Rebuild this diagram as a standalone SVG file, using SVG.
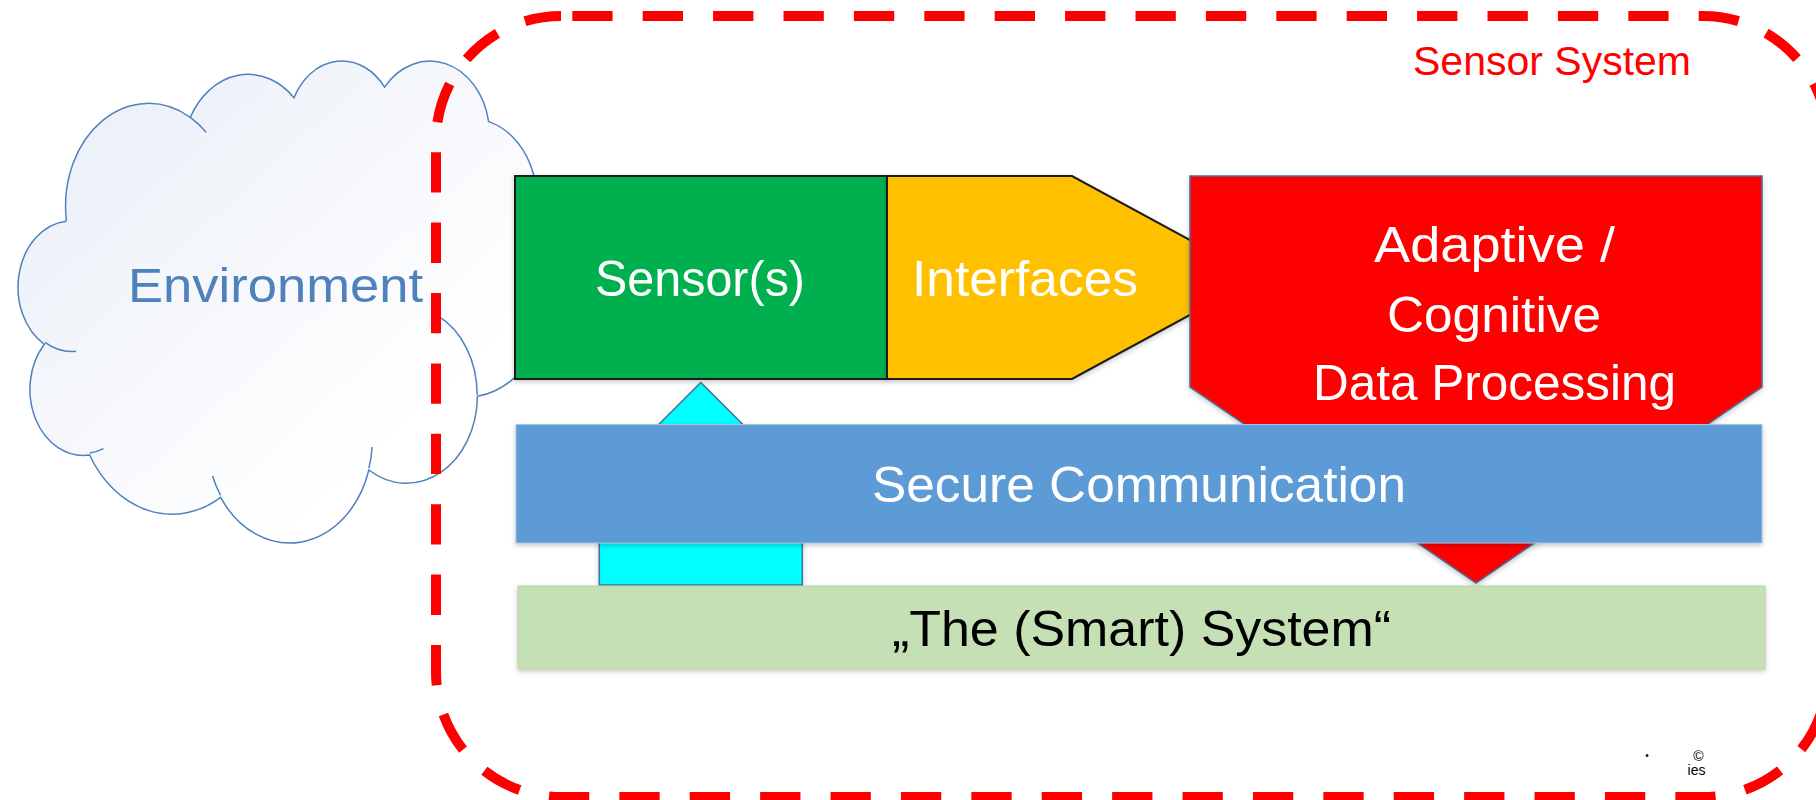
<svg xmlns="http://www.w3.org/2000/svg" width="1816" height="800" viewBox="0 0 1816 800">
  <style>
    .lbl { font-family: "Liberation Sans", Arial, sans-serif; }
    .white { fill: #FFFFFF; font-size: 50px; }
    .dark { stroke: #1A1A1A; stroke-width: 2; }
    .blueline { stroke: #41719C; stroke-width: 1.5; }
  </style>
  <defs>
    <linearGradient id="cloudFill" x1="0" y1="0" x2="1" y2="1">
      <stop offset="0" stop-color="#E8EDF6"/>
      <stop offset="0.75" stop-color="#FFFFFF"/>
    </linearGradient>
    <filter id="shadow" x="-5%" y="-10%" width="110%" height="130%">
      <feDropShadow dx="0" dy="2" stdDeviation="2.5" flood-color="#000000" flood-opacity="0.22"/>
    </filter>
  </defs>

  <rect width="1816" height="800" fill="#FFFFFF"/>

  <!-- Environment cloud -->
  <g id="environment">
    <g transform="translate(18.47 59.4) scale(0.01227 0.011153)">
      <path fill="url(#cloudFill)" stroke="#4F81BD" stroke-width="1.5" vector-effect="non-scaling-stroke"
        d="M3900 14370 A6753 9190 0 0 1 14004 5202 A5333 7267 0 0 1 22457 3434 A4365 5945 0 0 1 29834 2483 A4857 6595 0 0 1 38319 5580 A5333 7273 0 0 1 41819 15464 A6775 9220 0 0 1 37404 30206 A5785 7867 0 0 1 28556 36816 A6752 9215 0 0 1 16479 39265 A7720 10543 0 0 1 5801 35469 A4360 5918 0 0 1 2111 25546 A4345 5945 0 0 1 3862 14503 Z"/>
      <path fill="none" stroke="#4F81BD" stroke-width="1.5" vector-effect="non-scaling-stroke"
        d="M4693 26177 A4345 5945 0 0 1 2159 25380 M6928 34899 A4360 5918 0 0 1 5820 35281 M16478 39090 A6752 9215 0 0 1 15812 37353 M28827 34751 A6752 9215 0 0 1 28561 36659 M34129 22954 A5785 7867 0 0 1 37381 30090 M14000 5192 A6753 9190 0 0 1 15303 6544"/>
    </g>
    <text class="lbl" x="128" y="301.7" font-size="49" fill="#4F81BD" textLength="295" lengthAdjust="spacingAndGlyphs">Environment</text>
  </g>

  <!-- Sensor System boundary -->
  <g id="sensor-system">
    <rect x="436" y="16" width="1392" height="781" rx="125" ry="125" fill="none" stroke="#FF0000" stroke-width="10" stroke-dasharray="40.3 30.1" stroke-dashoffset="59.1"/>
    <text class="lbl" x="1413" y="75" font-size="40" fill="#FF0000" textLength="278" lengthAdjust="spacingAndGlyphs">Sensor System</text>
  </g>

  <!-- Sensor(s) -->
  <g id="sensors" filter="url(#shadow)">
    <rect class="dark" x="515" y="176" width="372" height="203" fill="#00B050"/>
    <text class="lbl white" x="595" y="296" textLength="210" lengthAdjust="spacingAndGlyphs">Sensor(s)</text>
  </g>

  <!-- Interfaces -->
  <g id="interfaces" filter="url(#shadow)">
    <polygon class="dark" points="887,176 1072,176 1259,277.5 1072,379 887,379" fill="#FFC000"/>
    <text class="lbl white" x="912" y="296" textLength="226" lengthAdjust="spacingAndGlyphs">Interfaces</text>
  </g>

  <!-- Adaptive / Cognitive Data Processing -->
  <g id="processing" filter="url(#shadow)">
    <polygon class="blueline" points="1190,176 1762,176 1762,387 1476,583 1190,387" fill="#FF0000"/>
    <text class="lbl white" x="1374" y="262" textLength="241" lengthAdjust="spacingAndGlyphs">Adaptive /</text>
    <text class="lbl white" x="1387" y="332" textLength="214" lengthAdjust="spacingAndGlyphs">Cognitive</text>
    <text class="lbl white" x="1313" y="400" textLength="363" lengthAdjust="spacingAndGlyphs">Data Processing</text>
  </g>

  <!-- Connectors -->
  <g id="connectors">
    <polygon id="feedback-arrow" class="blueline" filter="url(#shadow)" points="700.8,382.5 820.8,502.5 802.3,502.5 802.3,585 599.3,585 599.3,502.5 580.8,502.5" fill="#00FFFF"/>
  </g>

  <!-- Secure Communication -->
  <g id="secure-communication" filter="url(#shadow)">
    <rect x="516" y="424.5" width="1246" height="118.5" fill="#5B9BD5" stroke="#A9C2DD" stroke-width="1"/>
    <text class="lbl white" x="872" y="502" textLength="534" lengthAdjust="spacingAndGlyphs">Secure Communication</text>
  </g>

  <!-- The (Smart) System -->
  <g id="smart-system" filter="url(#shadow)">
    <rect x="518" y="586" width="1247" height="83" fill="#C5E0B4" stroke="#B9CFAB" stroke-width="1"/>
    <text class="lbl" x="892" y="646" font-size="50" fill="#000000" textLength="499" lengthAdjust="spacingAndGlyphs">„The (Smart) System“</text>
  </g>

  <!-- Copyright -->
  <g id="copyright">
    <text class="lbl" x="1647" y="759" font-size="10" fill="#000000" text-anchor="middle">•</text>
    <text class="lbl" x="1698.5" y="761" font-size="14" fill="#000000" text-anchor="middle">©</text>
    <text class="lbl" x="1696.5" y="775" font-size="14" fill="#000000" text-anchor="middle">ies</text>
  </g>
</svg>
